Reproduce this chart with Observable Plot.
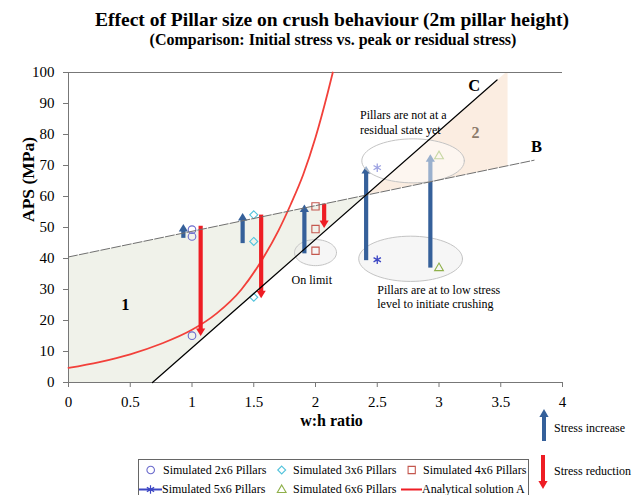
<!DOCTYPE html>
<html>
<head>
<meta charset="utf-8">
<script src="https://cdn.jsdelivr.net/npm/d3@7"></script>
<script src="https://cdn.jsdelivr.net/npm/@observablehq/plot@0.6"></script>
<style>
  body { margin: 0; background: #fff; }
  #wrap { position: relative; width: 632px; height: 495px; overflow: hidden; font-family: "Liberation Serif", "Times New Roman", serif; color: #000; }
  .t1 { position: absolute; left: 332px; top: 9.7px; transform: translateX(-50%); white-space: nowrap; font-size: 19.5px; line-height: 1; font-weight: bold; }
  .t2 { position: absolute; left: 333px; top: 31.6px; transform: translateX(-50%); white-space: nowrap; font-size: 16px; line-height: 1; font-weight: bold; }
  #chart { position: absolute; left: 0; top: 62px; }
  #chart svg text { font-family: "Liberation Serif", "Times New Roman", serif !important; }
  #chart svg g[aria-label*="axis"] text { font-size: 15px !important; fill: #000; }
  #chart svg g[aria-label*="axis"] line, #chart svg g[aria-label*="axis"] path { stroke: #777; }
  #legbox { position: absolute; left: 138px; top: 459px; width: 389px; height: 60px; border: 1px solid #666; overflow: hidden; }
  .li { position: absolute; font-size: 12px; line-height: 1; white-space: nowrap; }
  .sl { position: absolute; font-size: 12px; line-height: 1; white-space: nowrap; }
  svg.ov { position: absolute; left: 0; top: 0; }
</style>
</head>
<body>
<div id="wrap">
  <div class="t1">Effect of Pillar size on crush behaviour (2m pillar height)</div>
  <div class="t2">(Comparison: Initial stress vs. peak or residual stress)</div>
  <div id="chart"></div>
  <div id="legbox"></div>
  <svg class="ov" width="632" height="495" id="legsvg"></svg>
</div>
<script>
// ---------- data ----------
const xTicks = [0, 0.5, 1, 1.5, 2, 2.5, 3, 3.5, 4];
const yTicks = [0, 10, 20, 30, 40, 50, 60, 70, 80, 90, 100];

const wh2x6 = [1, 1, 1];          const aps2x6 = [49.3, 47.1, 15.1];
const wh3x6 = [1.5, 1.5, 1.5];    const aps3x6 = [54.1, 45.5, 27.5];
const wh4x6 = [2, 2, 2];          const aps4x6 = [56.8, 49.5, 42.5];
const wh5x6 = [2.5, 2.5];         const aps5x6 = [69.3, 39.6];
const wh6x6 = [3, 3];             const aps6x6 = [73, 36.9];

// Analytical solution A
const curveWh  = [0, 0.25, 0.5, 0.75, 1.0, 1.2, 1.4, 1.55, 1.7, 1.8, 1.9, 2.0, 2.1, 2.14];
const curveAps = [4.7, 6.6, 9.1, 12.5, 17, 22.3, 30, 38.5, 49, 57.5, 67, 79, 93.6, 100];

// limit lines
const lineBWh = [0, 3.77];   const lineBAps = [40.5, 71.7];
const lineCWh = [0.68, 3.47]; const lineCAps = [0, 97.6];

// shaded zones
const zone1Wh = [0, 0, 2.41, 0.68];        const zone1Aps = [0, 40.5, 60.6, 0];
const zone2Wh = [2.41, 3.54, 3.555, 3.555]; const zone2Aps = [60.6, 100, 100, 69.9];

// stress change arrows
const incWh   = [0.93, 1.41, 1.91, 2.41, 2.93];
const incFrom = [46.5, 44.8, 41.5, 39.3, 36.9];
const incTo   = [51.1, 54.7, 57.4, 69.8, 73.6];
const redWh   = [1.07, 1.56, 2.07];
const redFrom = [50.4, 54.0, 57.5];
const redTo   = [15.0, 27.2, 49.8];

// highlight ellipses: on limit, not residual, low stress
const ellCx = [2.0, 2.79, 2.77];
const ellCy = [41.9, 71.5, 39.9];
const ellRx = [0.17, 0.415, 0.42];
const ellRy = [4.2, 7.1, 7.3];

// labels
const zoneLabels = ["1", "C", "B"];
const zoneLabelWh = [0.46, 3.285, 3.79];
const zoneLabelAps = [25, 95.7, 76];
const zone2Label = ["2"]; const zone2LabelWh = [3.296]; const zone2LabelAps = [80.6];

const notes = ["Pillars are not at a", "residual state yet", "Pillars are at to low stress", "level to initiate crushing"];
const noteWh = [2.36, 2.36, 2.5, 2.5];
const noteAps = [86.1, 81.3, 29.9, 25.3];
const limitNote = ["On limit"]; const limitNoteWh = [1.97]; const limitNoteAps = [32.9];

const legendNames = ["Simulated 2x6 Pillars", "Simulated 3x6 Pillars", "Simulated 4x6 Pillars",
                     "Simulated 5x6 Pillars", "Simulated 6x6 Pillars", "Analytical solution A"];
const arrowLegendNames = ["Stress increase", "Stress reduction"];

// ---------- build tables ----------
const pts = (xs, ys) => xs.map((x, i) => ({wh: x, aps: ys[i]}));
const BLUE = "#35609a", RED = "#ee1d24";

const ellipsePts = (k) => d3.range(0, 73).map(j => {
  const t = j / 72 * 2 * Math.PI;
  return {wh: ellCx[k] + ellRx[k] * Math.cos(t), aps: ellCy[k] + ellRy[k] * Math.sin(t)};
});

const inc = incWh.map((x, i) => ({wh: x, from: incFrom[i], to: incTo[i]}));
const red = redWh.map((x, i) => ({wh: x, from: redFrom[i], to: redTo[i]}));

const headUp = {draw(ctx) { ctx.moveTo(0, 0); ctx.lineTo(-4.6, 7.5); ctx.lineTo(4.6, 7.5); ctx.closePath(); }};
const headDown = {draw(ctx) { ctx.moveTo(0, 0); ctx.lineTo(-4.6, -7.5); ctx.lineTo(4.6, -7.5); ctx.closePath(); }};

const font = '"Liberation Serif", "Times New Roman", serif';

const chart = Plot.plot({
  width: 632, height: 433,
  marginLeft: 68, marginRight: 70, marginTop: 10, marginBottom: 113,
  style: {fontFamily: font, fontSize: "15px", color: "#000", background: "transparent", overflow: "visible"},
  x: {domain: [0, 4], ticks: xTicks, tickFormat: d => String(d), tickSize: 5, tickPadding: 9, label: null},
  y: {domain: [0, 100], ticks: yTicks, tickFormat: d => String(d), tickSize: 5, tickPadding: 9, label: null},
  marks: [
    Plot.line(pts(zone1Wh, zone1Aps), {x: "wh", y: "aps", curve: "linear-closed", fill: "#f0f2ea", stroke: "none"}),
    Plot.line(pts(zone2Wh, zone2Aps), {x: "wh", y: "aps", curve: "linear-closed", fill: "#fbede1", stroke: "none"}),
    Plot.ruleY([100], {stroke: "#777", strokeWidth: 1}),
    Plot.ruleX([0], {stroke: "#777", strokeWidth: 1}),
    Plot.ruleY([0], {stroke: "#777", strokeWidth: 1}),
    // background ellipses
    Plot.line(ellipsePts(0), {x: "wh", y: "aps", curve: "linear-closed", fill: "#ececec", fillOpacity: 0.45, stroke: "#c4c4c4", strokeWidth: 1}),
    Plot.line(ellipsePts(2), {x: "wh", y: "aps", curve: "linear-closed", fill: "#ececec", fillOpacity: 0.45, stroke: "#c4c4c4", strokeWidth: 1}),
    // red analytical curve
    Plot.line(pts(curveWh, curveAps), {x: "wh", y: "aps", curve: "monotone-x", stroke: "#f2403a", strokeWidth: 1.8}),
    // arrows
    Plot.ruleX(inc, {x: "wh", y1: "from", y2: d => d.to - 2, stroke: BLUE, strokeWidth: 4.2}),
    Plot.dot(inc, {x: "wh", y: "to", symbol: headUp, fill: BLUE, stroke: "none"}),
    Plot.ruleX(red, {x: "wh", y1: "from", y2: d => d.to + 2, stroke: RED, strokeWidth: 4.2}),
    Plot.dot(red, {x: "wh", y: "to", symbol: headDown, fill: RED, stroke: "none"}),
    // markers
    Plot.dot(pts(wh2x6, aps2x6), {x: "wh", y: "aps", symbol: "circle", r: 3.8, stroke: "#6b6bcc", strokeWidth: 1.1, fill: "none"}),
    Plot.dot(pts(wh3x6, aps3x6), {x: "wh", y: "aps", symbol: "diamond2", r: 3.6, stroke: "#52c3dc", strokeWidth: 1.1, fill: "none"}),
    Plot.dot(pts(wh4x6, aps4x6), {x: "wh", y: "aps", symbol: "square", r: 4.1, stroke: "#c4574e", strokeWidth: 1.1, fill: "none"}),
    Plot.dot(pts(wh5x6, aps5x6), {x: "wh", y: "aps", symbol: "asterisk", r: 4, stroke: "#3c46c4", strokeWidth: 1.3, fill: "none"}),
    Plot.dot(pts(wh6x6, aps6x6), {x: "wh", y: "aps", symbol: "triangle2", r: 4.2, stroke: "#8fb04a", strokeWidth: 1.1, fill: "none"}),
    // upper ellipse (drawn over, translucent)
    Plot.line(ellipsePts(1), {x: "wh", y: "aps", curve: "linear-closed", fill: "#ffffff", fillOpacity: 0.5, stroke: "#c4c4c4", strokeWidth: 1}),
    // limit lines
    Plot.line(pts(lineBWh, lineBAps), {x: "wh", y: "aps", stroke: "#707070", strokeWidth: 1, strokeDasharray: "9,2"}),
    Plot.line(pts(lineCWh, lineCAps), {x: "wh", y: "aps", stroke: "#000", strokeWidth: 1.2}),
    // labels
    Plot.text(zoneLabels, {x: (d, i) => zoneLabelWh[i], y: (d, i) => zoneLabelAps[i], text: d => d, fontSize: 16.5, fontWeight: "bold", fontFamily: font, fill: "#000"}),
    Plot.text(zone2Label, {x: (d, i) => zone2LabelWh[i], y: (d, i) => zone2LabelAps[i], text: d => d, fontSize: 16, fontWeight: "bold", fontFamily: font, fill: "#8c7b6b"}),
    Plot.text(notes, {x: (d, i) => noteWh[i], y: (d, i) => noteAps[i], text: d => d, fontSize: 12, fontFamily: font, fill: "#000", textAnchor: "start"}),
    Plot.text(limitNote, {x: (d, i) => limitNoteWh[i], y: (d, i) => limitNoteAps[i], text: d => d, fontSize: 12, fontFamily: font, fill: "#000"}),
    // axis titles
    Plot.text(["APS (MPa)"], {frameAnchor: "left", rotate: -90, dx: -40, dy: -5.5, text: d => d, fontSize: 17.5, fontWeight: "bold", fontFamily: font, fill: "#000"}),
    Plot.text(["w:h ratio"], {frameAnchor: "bottom", dx: 16, dy: 43, text: d => d, fontSize: 16, fontWeight: "bold", fontFamily: font, fill: "#000"})
  ]
});
document.getElementById("chart").appendChild(chart);

// ---------- legend (HTML/SVG overlay) ----------
const wrap = document.getElementById("wrap");
const legItems = [
  {name: legendNames[0], tx: 163, ty: 470},
  {name: legendNames[1], tx: 293, ty: 470},
  {name: legendNames[2], tx: 423, ty: 470},
  {name: legendNames[3], tx: 162, ty: 489.3},
  {name: legendNames[4], tx: 293, ty: 489.3},
  {name: legendNames[5], tx: 422, ty: 489.3}
];
const box = document.getElementById("legbox");
legItems.forEach(it => {
  const s = document.createElement("span");
  s.className = "li";
  s.textContent = it.name;
  s.style.left = (it.tx - 139) + "px";
  s.style.top = (it.ty - 460 - 6.5) + "px";
  box.appendChild(s);
});
const lsvg = d3.select("#legsvg");
const sym = (type, size) => d3.symbol().type(type).size(size)();
lsvg.append("path").attr("d", sym(d3.symbolCircle, 45)).attr("transform", "translate(150.7,470)").attr("fill", "none").attr("stroke", "#6b6bcc").attr("stroke-width", 1.1);
lsvg.append("path").attr("d", sym(d3.symbolDiamond2, 40)).attr("transform", "translate(281.7,470)").attr("fill", "none").attr("stroke", "#52c3dc").attr("stroke-width", 1.1);
lsvg.append("path").attr("d", sym(d3.symbolSquare, 52)).attr("transform", "translate(411.7,470)").attr("fill", "none").attr("stroke", "#c4574e").attr("stroke-width", 1.1);
lsvg.append("line").attr("x1", 139).attr("x2", 162).attr("y1", 489.5).attr("y2", 489.5).attr("stroke", "#3c46c4").attr("stroke-width", 2);
lsvg.append("path").attr("d", sym(d3.symbolAsterisk, 50)).attr("transform", "translate(150.5,489.5)").attr("fill", "none").attr("stroke", "#3c46c4").attr("stroke-width", 1.2);
lsvg.append("path").attr("d", sym(d3.symbolTriangle2, 55)).attr("transform", "translate(281.7,490)").attr("fill", "none").attr("stroke", "#8fb04a").attr("stroke-width", 1.1);
lsvg.append("line").attr("x1", 401).attr("x2", 422).attr("y1", 489.5).attr("y2", 489.5).attr("stroke", RED).attr("stroke-width", 2);

// stress arrows legend
lsvg.append("line").attr("x1", 544).attr("x2", 544).attr("y1", 441).attr("y2", 416).attr("stroke", BLUE).attr("stroke-width", 4);
lsvg.append("path").attr("d", "M544,409L539.4,417L548.6,417Z").attr("fill", BLUE);
lsvg.append("line").attr("x1", 543).attr("x2", 543).attr("y1", 455).attr("y2", 481).attr("stroke", RED).attr("stroke-width", 4);
lsvg.append("path").attr("d", "M543,489L538.4,481L547.6,481Z").attr("fill", RED);
[[arrowLegendNames[0], 428], [arrowLegendNames[1], 471]].forEach(([t, y]) => {
  const s = document.createElement("span");
  s.className = "sl";
  s.textContent = t;
  s.style.left = "554px";
  s.style.top = (y - 6.5) + "px";
  wrap.appendChild(s);
});
</script>
</body>
</html>
